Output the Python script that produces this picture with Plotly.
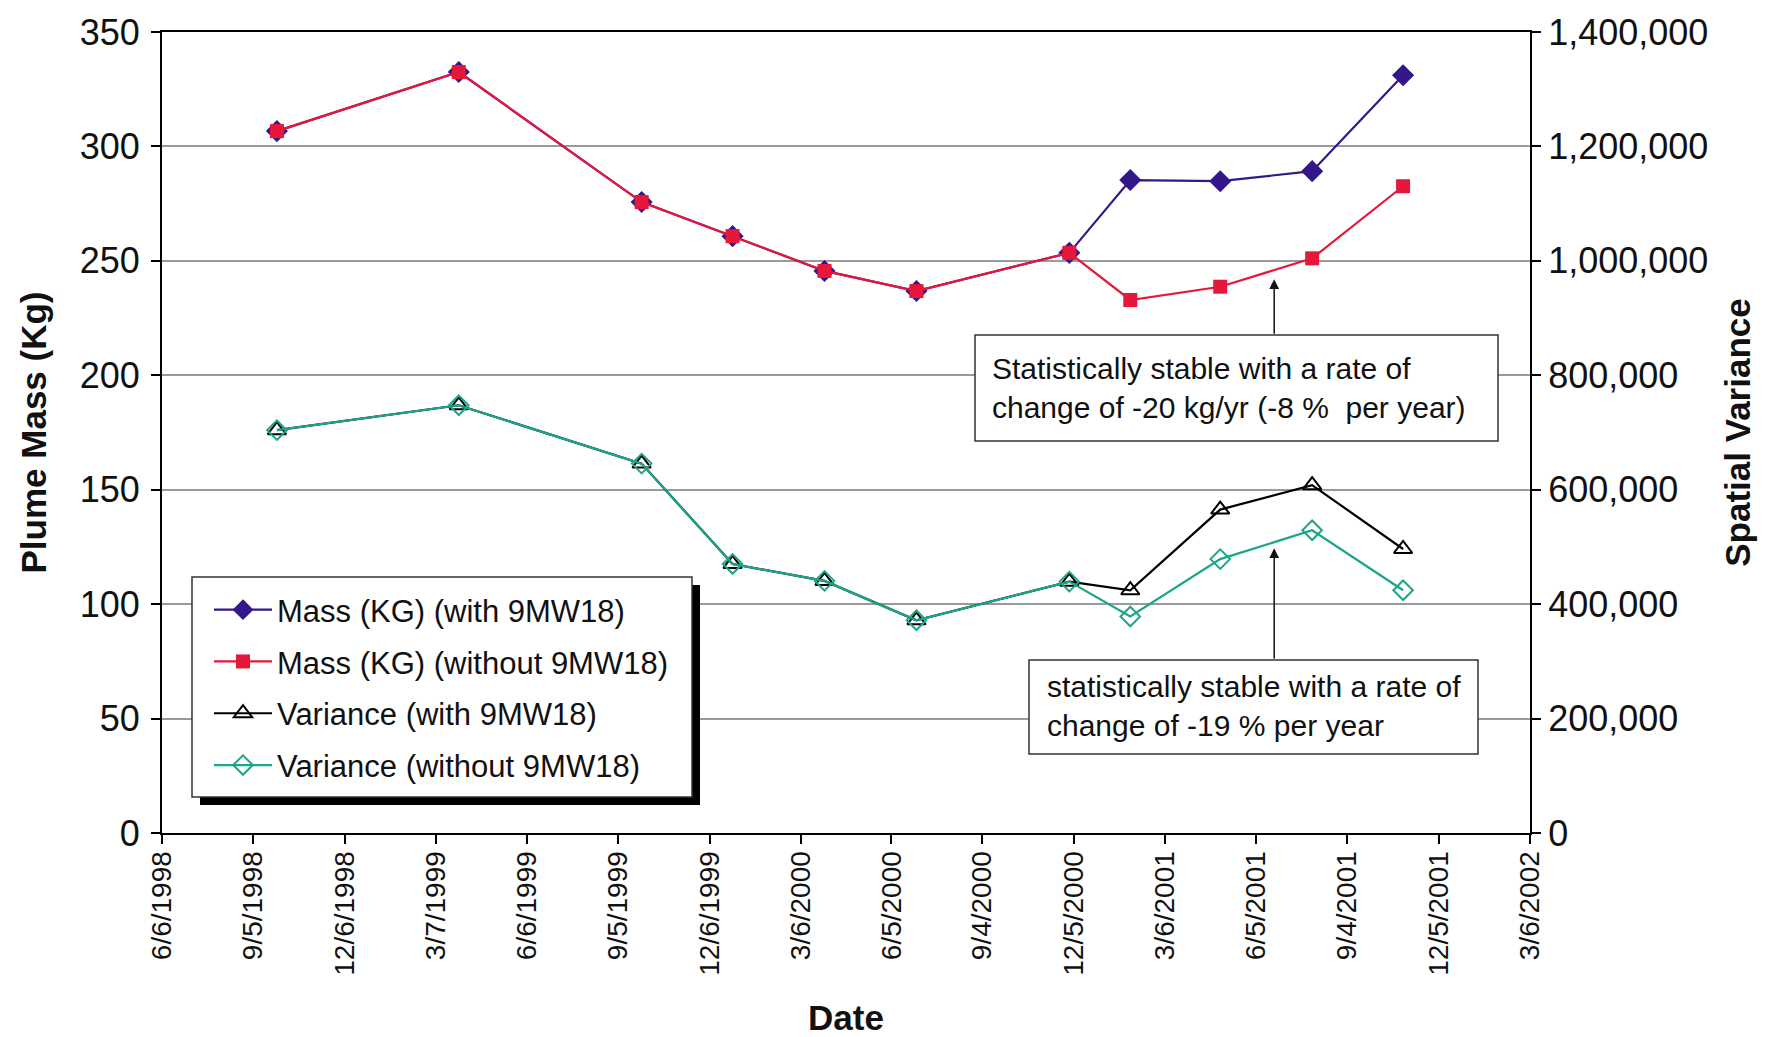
import subprocess
import plotly.graph_objects as go

# ---------------- data ----------------
dates = ["1998-09-29", "1999-03-30", "1999-09-29", "1999-12-29", "2000-03-30",
         "2000-06-30", "2000-11-30", "2001-01-30", "2001-04-30", "2001-07-31",
         "2001-10-30"]
mass_with = [306.7, 332.5, 275.7, 260.8, 245.6, 236.8, 253.5, 285.3, 284.8, 289.2, 331.1]
mass_without = [306.7, 332.5, 275.7, 260.8, 245.6, 236.8, 253.5, 232.9, 238.7, 251.1, 282.6]
var_with = [704000, 747600, 645600, 470200, 440600, 371800, 439300, 424300, 565200, 607900, 496400]
var_without = [704000, 747600, 645600, 470200, 440600, 371800, 439300, 378400, 478700, 529200, 424300]

tick_dates = ["1998-06-06", "1998-09-05", "1998-12-06", "1999-03-07", "1999-06-06",
              "1999-09-05", "1999-12-06", "2000-03-06", "2000-06-05", "2000-09-04",
              "2000-12-05", "2001-03-06", "2001-06-05", "2001-09-04", "2001-12-05",
              "2002-03-06"]
tick_labels = ["6/6/1998", "9/5/1998", "12/6/1998", "3/7/1999", "6/6/1999",
               "9/5/1999", "12/6/1999", "3/6/2000", "6/5/2000", "9/4/2000",
               "12/5/2000", "3/6/2001", "6/5/2001", "9/4/2001", "12/5/2001",
               "3/6/2002"]
series_names = ["Mass (KG) (with 9MW18)", "Mass (KG) (without 9MW18)",
                "Variance (with 9MW18)", "Variance (without 9MW18)"]
note_mass = "Statistically stable with a rate of<br>change of -20 kg/yr (-8 %\u00a0 per year)"
note_var = "statistically stable with a rate of<br>change of -19 % per year"
note_mass_at = ("2001-06-23", 242.0)
note_var_at = ("2001-06-23", 497600)

# ---------------- fonts ----------------
try:
    fl = subprocess.run(["fc-list"], capture_output=True, text=True).stdout
except Exception:
    fl = ""
NARROW = "Liberation Sans Narrow" in fl
if NARROW:
    FONT = "Liberation Sans Narrow"
    fs_ytick, fs_xtick, fs_title, fs_leg, fs_note = 42, 34, 42, 37, 36
else:
    FONT = "Liberation Sans"
    fs_ytick, fs_xtick, fs_title, fs_leg, fs_note = 36, 28, 35, 31, 30

# page has an 8px body margin; work in page pixel coordinates
OFF = 8
W, H = 1773 - OFF, 1037 - OFF
PL, PR, PT, PB = 162, 1530, 32, 833           # plot area in page pixels
L, T = PL - OFF, PT - OFF
R, B = W - (PR - OFF), H - (PB - OFF)
PW, PH = PR - PL, PB - PT


def px_x(px):
    return (px - PL) / PW


def px_y(py):
    return (PB - py) / PH


PURPLE = "#33168a"
RED = "#e5173b"
TEAL = "#1ca58a"
BLACK = "#000000"

fig = go.Figure()
fig.add_trace(go.Scatter(x=dates, y=mass_with, name=series_names[0], mode="lines+markers",
                         line=dict(color=PURPLE, width=2.2),
                         marker=dict(symbol="diamond", size=17, color=PURPLE),
                         legendgroup="a"))
fig.add_trace(go.Scatter(x=dates, y=mass_without, name=series_names[1], mode="lines+markers",
                         line=dict(color=RED, width=2.2),
                         marker=dict(symbol="square", size=14, color=RED),
                         legendgroup="b"))
fig.add_trace(go.Scatter(x=dates, y=var_with, name=series_names[2], mode="lines+markers",
                         yaxis="y2", line=dict(color=BLACK, width=2.2),
                         marker=dict(symbol="triangle-up-open", size=16, color=BLACK,
                                     line=dict(width=2)),
                         legendgroup="c"))
fig.add_trace(go.Scatter(x=dates, y=var_without, name=series_names[3], mode="lines+markers",
                         yaxis="y2", line=dict(color=TEAL, width=2.2),
                         marker=dict(symbol="diamond-open", size=15, color=TEAL,
                                     line=dict(width=2)),
                         legendgroup="d"))

axis_common = dict(showline=True, linecolor="black", linewidth=2, ticks="outside",
                   ticklen=9, tickwidth=2, tickcolor="black")

fig.update_layout(
    width=W, height=H,
    margin=dict(l=L, r=R, t=T, b=B, autoexpand=False),
    paper_bgcolor="white", plot_bgcolor="white",
    font=dict(family=FONT, color="#111111"),
    xaxis=dict(type="date", range=[tick_dates[0], tick_dates[-1]],
               tickmode="array", tickvals=tick_dates, ticktext=tick_labels,
               tickangle=-90, tickfont=dict(size=fs_xtick), showgrid=False,
               mirror=True, zeroline=False, automargin=False, ticklabelstandoff=-4,
               title=dict(text="<b>Date</b>", font=dict(size=fs_title), standoff=34),
               **axis_common),
    yaxis=dict(range=[0, 350], dtick=50, tickfont=dict(size=fs_ytick),
               showgrid=True, gridcolor="#9a9a9a", gridwidth=1.5, zeroline=False,
               automargin=False, ticklabelstandoff=4,
               title=dict(text="<b>Plume Mass (Kg)</b>", font=dict(size=fs_title), standoff=22),
               **axis_common),
    yaxis2=dict(range=[0, 1400000], dtick=200000, tickformat=",", overlaying="y",
                side="right", tickfont=dict(size=fs_ytick), showgrid=False,
                zeroline=False, automargin=False, ticklabelstandoff=0,
                title=dict(text="<b>Spatial Variance</b>", font=dict(size=fs_title), standoff=18),
                **axis_common),
    legend=dict(x=px_x(209), y=px_y(583), xanchor="left", yanchor="top",
                bgcolor="rgba(0,0,0,0)", borderwidth=0,
                font=dict(size=fs_leg, color="#111111"), traceorder="grouped",
                tracegroupgap=8.5, itemwidth=58),
    showlegend=True,
)

# legend shadow + frame
fig.add_shape(type="rect", xref="paper", yref="paper",
              x0=px_x(200), x1=px_x(700), y0=px_y(805), y1=px_y(585),
              fillcolor="black", line=dict(width=0), layer="above")
fig.add_shape(type="rect", xref="paper", yref="paper",
              x0=px_x(192), x1=px_x(692), y0=px_y(797), y1=px_y(577),
              fillcolor="white", line=dict(color="#333333", width=1.5), layer="above")

# note boxes
fig.add_shape(type="rect", xref="paper", yref="paper",
              x0=px_x(975), x1=px_x(1498), y0=px_y(441), y1=px_y(335),
              fillcolor="white", line=dict(color="#333333", width=1.5), layer="above")
fig.add_shape(type="rect", xref="paper", yref="paper",
              x0=px_x(1029), x1=px_x(1478), y0=px_y(754), y1=px_y(660),
              fillcolor="white", line=dict(color="#333333", width=1.5), layer="above")

fig.add_annotation(text=note_mass, xref="paper", yref="paper", x=px_x(990), y=px_y(388),
                   xanchor="left", yanchor="middle", align="left", showarrow=False,
                   font=dict(size=fs_note, color="#111111"))
fig.add_annotation(text=note_var, xref="paper", yref="paper", x=px_x(1045), y=px_y(706),
                   xanchor="left", yanchor="middle", align="left", showarrow=False,
                   font=dict(size=fs_note, color="#111111"))

# arrows
fig.add_annotation(text="", x=note_mass_at[0], y=note_mass_at[1], xref="x", yref="y",
                   showarrow=True, ax=0, ay=56, arrowhead=2, arrowsize=1.3,
                   arrowwidth=1.5, arrowcolor="#111111")
fig.add_annotation(text="", x=note_var_at[0], y=note_var_at[1], xref="x", yref="y2",
                   showarrow=True, ax=0, ay=112, arrowhead=2, arrowsize=1.3,
                   arrowwidth=1.5, arrowcolor="#111111")

fig.write_html("out.html")
